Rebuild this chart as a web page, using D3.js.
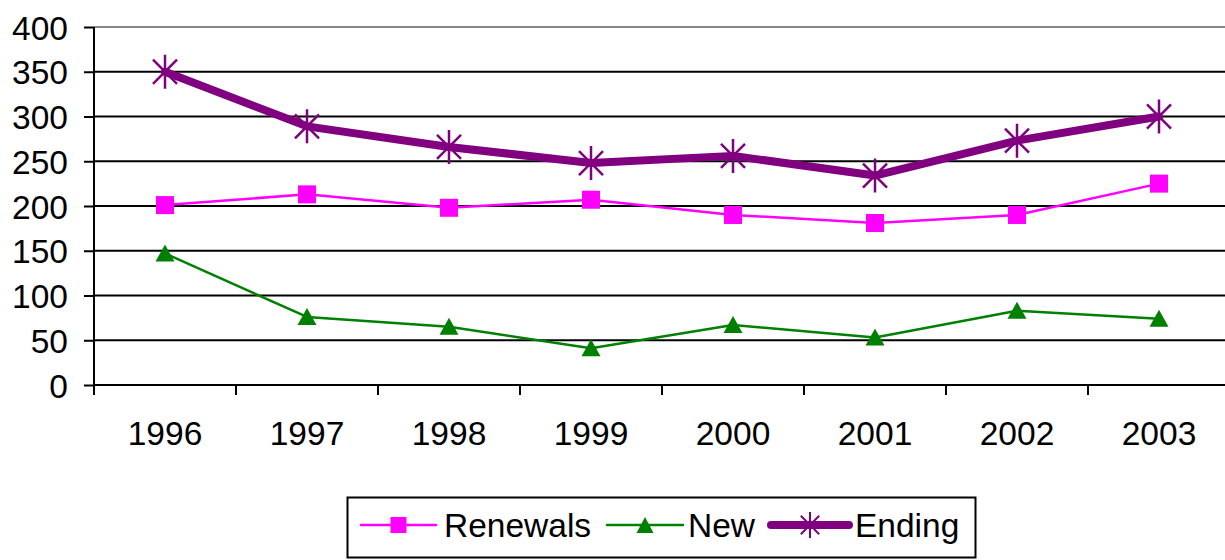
<!DOCTYPE html>
<html>
<head>
<meta charset="utf-8">
<script src="https://cdn.jsdelivr.net/npm/d3@7"></script>
<style>
  html, body { margin: 0; padding: 0; background: #fff; }
  svg { display: block; }
  text { font-family: "Liberation Sans", Arial, sans-serif; fill: #000; }
</style>
</head>
<body>
<svg id="chart" width="1225" height="560"></svg>
<script>
const years = ["1996", "1997", "1998", "1999", "2000", "2001", "2002", "2003"];
const renewals = [201, 213, 198, 207, 190, 181, 190, 225];
const newVals  = [147, 76, 65, 41, 67, 53, 83, 74];
const ending   = [350, 289, 266, 248, 256, 234, 273, 300];
const yTicks   = [0, 50, 100, 150, 200, 250, 300, 350, 400];
const seriesNames = ["Renewals", "New", "Ending"];

const FS = 33.5;
const svg = d3.select("#chart");
const pLeft = 94, pRight = 1230, pTop = 27, pBottom = 385;

const x = d3.scaleBand().domain(years).range([pLeft, pRight]).padding(0);
const y = d3.scaleLinear().domain([0, 400]).range([pBottom, pTop]);

// gridlines
svg.append("g").selectAll("line").data(yTicks.filter(d => d > 0)).join("line")
  .attr("x1", pLeft).attr("x2", pRight)
  .attr("y1", d => y(d)).attr("y2", d => y(d))
  .attr("stroke", d => d === 400 ? "#888" : "#000")
  .attr("stroke-width", 2);

// y axis
const yAxis = d3.axisLeft(y).tickValues(yTicks).tickSize(10).tickPadding(16).tickFormat(d3.format("d"));
const gy = svg.append("g").attr("transform", `translate(${pLeft},0)`).call(yAxis);
gy.select(".domain").attr("stroke", "#000").attr("stroke-width", 2).attr("d", `M0,${pTop}V${pBottom}`);
gy.selectAll(".tick line").attr("stroke", "#000").attr("stroke-width", 2);
gy.selectAll(".tick text").attr("font-size", FS).attr("font-family", "Liberation Sans, Arial, sans-serif").attr("fill", "#000").attr("dy", "0.36em");

// x axis
const xAxis = d3.axisBottom(x).tickSize(0).tickPadding(36);
const gx = svg.append("g").attr("transform", `translate(0,${pBottom})`).call(xAxis);
gx.select(".domain").attr("stroke", "#000").attr("stroke-width", 2).attr("d", `M${pLeft},0H${pRight}`);
gx.selectAll(".tick text").attr("font-size", FS).attr("font-family", "Liberation Sans, Arial, sans-serif").attr("fill", "#000");
// category separators
const seps = years.map((d) => x(d)).concat([pRight]);
gx.append("g").selectAll("line").data(seps).join("line")
  .attr("x1", d => d).attr("x2", d => d).attr("y1", 0).attr("y2", 10)
  .attr("stroke", "#000").attr("stroke-width", 2);

const cx = d => x(d) + x.bandwidth() / 2;

function starPath(r) {
  const a = r * 0.707;
  return `M0,${-r}V${r}M${-a},${-a}L${a},${a}M${-a},${a}L${a},${-a}`;
}
function drawMarker(g, type, color) {
  if (type === "square") {
    g.append("rect").attr("x", -9).attr("y", -9).attr("width", 18).attr("height", 18).attr("fill", color);
  } else if (type === "triangle") {
    g.append("path").attr("d", "M0,-9L9.5,8H-9.5Z").attr("fill", color);
  } else {
    g.append("path").attr("d", starPath(17)).attr("stroke", color).attr("stroke-width", 2.5).attr("fill", "none");
  }
}

const series = [
  { name: seriesNames[0], values: renewals, color: "#FF00FF", width: 2.5, marker: "square" },
  { name: seriesNames[1], values: newVals, color: "#008000", width: 2.5, marker: "triangle" },
  { name: seriesNames[2], values: ending, color: "#800080", width: 8, marker: "star" }
];

const line = d3.line().x((d, i) => cx(years[i])).y(d => y(d));

series.forEach(s => {
  svg.append("path").datum(s.values).attr("d", line)
    .attr("fill", "none").attr("stroke", s.color).attr("stroke-width", s.width)
    .attr("stroke-linejoin", "round").attr("stroke-linecap", "round");
  s.values.forEach((v, i) => {
    const g = svg.append("g").attr("transform", `translate(${cx(years[i])},${y(v)})`);
    drawMarker(g, s.marker, s.color);
  });
});

// legend
const lg = svg.append("g");
lg.append("rect").attr("x", 347.5).attr("y", 497.5).attr("width", 628).attr("height", 60)
  .attr("fill", "#fff").attr("stroke", "#000").attr("stroke-width", 2);
const legendItems = [
  { s: series[0], x1: 361, x2: 436, tx: 444 },
  { s: series[1], x1: 607, x2: 683, tx: 688 },
  { s: series[2], x1: 771, x2: 849, tx: 855 }
];
const ly = 525;
legendItems.forEach(it => {
  lg.append("line").attr("x1", it.x1).attr("x2", it.x2).attr("y1", ly).attr("y2", ly)
    .attr("stroke", it.s.color).attr("stroke-width", it.s.width).attr("stroke-linecap", "round");
  const g = lg.append("g").attr("transform", `translate(${(it.x1 + it.x2) / 2},${ly})`);
  if (it.s.marker === "star") {
    g.append("path").attr("d", starPath(13)).attr("stroke", it.s.color).attr("stroke-width", 2).attr("fill", "none");
  } else if (it.s.marker === "square") {
    g.append("rect").attr("x", -8).attr("y", -8).attr("width", 16).attr("height", 16).attr("fill", it.s.color);
  } else {
    g.append("path").attr("d", "M0,-8L8.5,8H-8.5Z").attr("fill", it.s.color);
  }
  lg.append("text").attr("x", it.tx).attr("y", ly).attr("dy", "0.36em")
    .attr("font-size", FS).text(it.s.name);
});
</script>
</body>
</html>
